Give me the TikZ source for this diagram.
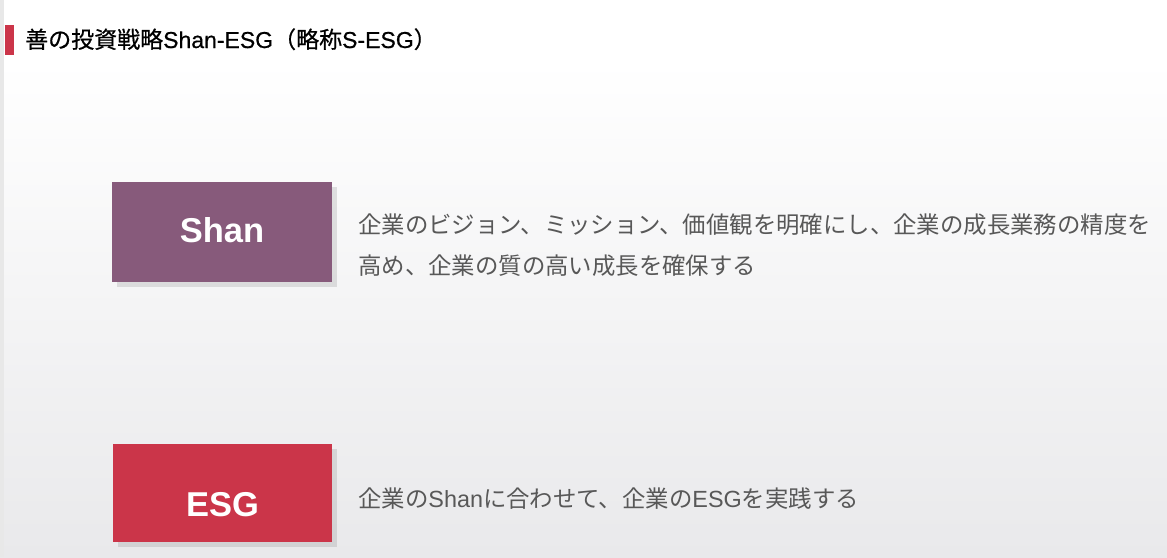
\documentclass[tikz,border=0pt]{standalone}
\usepackage{fontspec}
\newfontfamily\jp{Noto Sans CJK JP}
\newfontfamily\lat{Liberation Sans}
\newfontfamily\jpt{Noto Sans CJK JP}[FakeBold=0.6]
\newfontfamily\latt{Liberation Sans}[FakeBold=0.6]
\usetikzlibrary{shadows}
\definecolor{shanpurple}{HTML}{875A7B}
\definecolor{esgred}{HTML}{CB3549}
\definecolor{bodygray}{HTML}{585858}
\definecolor{bgbottom}{HTML}{E9E9EB}
\definecolor{stripgray}{HTML}{E8E8E8}
\begin{document}
\begin{tikzpicture}[x=1pt,y=-1pt,
  box/.style={rectangle, inner sep=0pt, minimum width=220pt,
    drop shadow={shadow xshift=5pt, shadow yshift=-5pt, opacity=.22, fill=black!50}},
  boxlabel/.style={text=white, font=\lat\bfseries\fontsize{34.5}{40}\selectfont, inner sep=0pt},
  body/.style={text=bodygray, font=\jp\fontsize{23.4}{28}\selectfont, anchor=base west, inner sep=0pt},
  titletext/.style={text=black, font=\jpt\fontsize{23}{28}\selectfont, anchor=base west, inner sep=0pt},
  bar/.style={rectangle, fill=esgred, inner sep=0pt, minimum width=9pt, minimum height=30pt}
]
% background
\fill[white] (0,0) rectangle (1167,557);
\shade[top color=white, bottom color=bgbottom] (0,60) rectangle (1167,557);
\fill[stripgray] (0,0) rectangle (4,557);
\useasboundingbox (0,0) rectangle (1167,557);

% title
\node[bar] (bar) at (9.5,40) {};
\node[titletext] (title) at (25,48) {善の投資戦略{\latt Shan-ESG}（略称{\latt S-ESG}）};

% boxes
\node[box, fill=shanpurple, minimum height=100pt] (shan) at (222,232) {};
\node[boxlabel] (shanlabel) at (222,230) {Shan};
\node[box, fill=esgred, minimum height=98pt, minimum width=219pt] (esg) at (222.5,493) {};
\node[boxlabel] (esglabel) at (222.5,505) {ESG};

% descriptions
\node[body] (t1) at (358,233) {企業のビジョン、ミッション、価値観を明確にし、企業の成長業務の精度を};
\node[body] (t2) at (358,274) {高め、企業の質の高い成長を確保する};
\node[body] (t3) at (358,507) {企業の{\lat Shan}に合わせて、企業の{\lat ESG}を実践する};
\end{tikzpicture}
\end{document}
